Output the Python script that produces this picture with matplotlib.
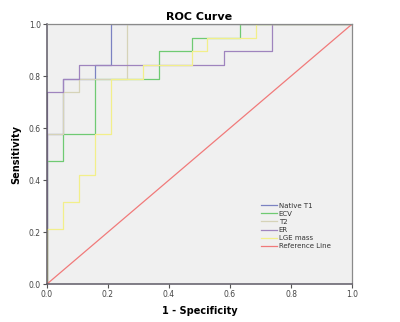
import matplotlib
matplotlib.use("Agg")
import matplotlib.pyplot as plt

# ROC curve data (1 - specificity, sensitivity)
series_names = ["Native T1", "ECV", "T2", "ER", "LGE mass", "Reference Line"]

native_t1_fpr = [0.0, 0.0, 0.053, 0.053, 0.158, 0.158, 0.211, 0.211, 1.0]
native_t1_tpr = [0.0, 0.579, 0.579, 0.789, 0.789, 0.842, 0.842, 1.0, 1.0]

ecv_fpr = [0.0, 0.0, 0.053, 0.053, 0.158, 0.158, 0.368, 0.368, 0.474, 0.474, 0.632, 0.632, 1.0]
ecv_tpr = [0.0, 0.474, 0.474, 0.579, 0.579, 0.789, 0.789, 0.895, 0.895, 0.947, 0.947, 1.0, 1.0]

t2_fpr = [0.0, 0.0, 0.053, 0.053, 0.105, 0.105, 0.263, 0.263, 1.0]
t2_tpr = [0.0, 0.579, 0.579, 0.737, 0.737, 0.789, 0.789, 1.0, 1.0]

er_fpr = [0.0, 0.0, 0.053, 0.053, 0.105, 0.105, 0.579, 0.579, 0.737, 0.737, 1.0]
er_tpr = [0.0, 0.737, 0.737, 0.789, 0.789, 0.842, 0.842, 0.895, 0.895, 1.0, 1.0]

lge_fpr = [0.0, 0.0, 0.053, 0.053, 0.105, 0.105, 0.158, 0.158, 0.211, 0.211, 0.316, 0.316,
           0.474, 0.474, 0.526, 0.526, 0.684, 0.684, 1.0]
lge_tpr = [0.0, 0.211, 0.211, 0.316, 0.316, 0.421, 0.421, 0.579, 0.579, 0.789, 0.789, 0.842,
           0.842, 0.895, 0.895, 0.947, 0.947, 1.0, 1.0]

ref_fpr = [0.0, 1.0]
ref_tpr = [0.0, 1.0]

ticks = [0.0, 0.2, 0.4, 0.6, 0.8, 1.0]
tick_labels = ["0.0", "0.2", "0.4", "0.6", "0.8", "1.0"]

colors = ["#7b82c2", "#6fca72", "#d6d3b8", "#9f84be", "#f2ef8a", "#f07a7a"]

fig = plt.figure(figsize=(4.0, 3.22), dpi=100)
ax = fig.add_axes([0.1175, 0.118, 0.7625, 0.807])
ax.set_facecolor("#f0f0f0")

data = [(native_t1_fpr, native_t1_tpr), (ecv_fpr, ecv_tpr), (t2_fpr, t2_tpr),
        (er_fpr, er_tpr), (lge_fpr, lge_tpr), (ref_fpr, ref_tpr)]
for i, ((xs, ys), name, c) in enumerate(zip(data, series_names, colors)):
    ax.plot(xs, ys, color=c, lw=0.9, label=name, zorder=3 + i)

ax.set_xlim(0, 1)
ax.set_ylim(0, 1)
ax.set_xticks(ticks)
ax.set_xticklabels(tick_labels)
ax.set_yticks(ticks)
ax.set_yticklabels(tick_labels)
ax.tick_params(axis="both", direction="out", length=3, width=0.8, color="#555555",
               labelsize=5.5, labelcolor="#444444", pad=1.5)
for s in ["left", "bottom"]:
    ax.spines[s].set_color("#5e5a66")
    ax.spines[s].set_linewidth(1.1)
    ax.spines[s].set_zorder(20)
for s in ["top", "right"]:
    ax.spines[s].set_color("#8a8a8a")
    ax.spines[s].set_linewidth(0.9)
    ax.spines[s].set_zorder(20)

ax.set_title("ROC Curve", fontsize=8, fontweight="bold", pad=3)
ax.set_xlabel("1 - Specificity", fontsize=7, fontweight="bold", labelpad=5)
ax.set_ylabel("Sensitivity", fontsize=7, fontweight="bold", labelpad=5)

leg = ax.legend(loc="lower right", bbox_to_anchor=(0.95, 0.11), fontsize=5, frameon=False,
                handlelength=2.2, handletextpad=0.3, labelspacing=0.3)
for t in leg.get_texts():
    t.set_color("#333333")

fig.savefig("out.png", dpi=100)
